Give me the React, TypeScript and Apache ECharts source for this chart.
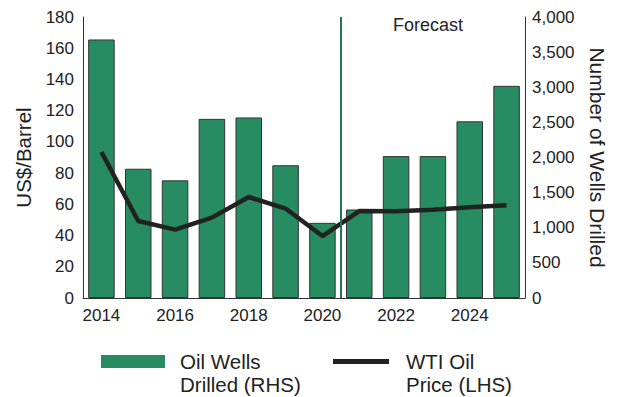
import React, { useEffect, useRef } from "react";
import * as echarts from "echarts";

const years = ["2014", "2015", "2016", "2017", "2018", "2019", "2020", "2021", "2022", "2023", "2024", "2025"];
const wellsDrilled = [3680, 1840, 1675, 2550, 2570, 1890, 1070, 1260, 2020, 2020, 2515, 3020];
const wtiPrice = [93.5, 49.3, 43.8, 51.5, 64.7, 57.3, 39.7, 55.7, 55.5, 56.6, 58.1, 59.4];
const priceAxis = { min: 0, max: 180, interval: 20 };
const wellsAxis = { min: 0, max: 4000, interval: 500 };
const forecastStartIndex = 6.5;
const wellsName = "Oil Wells\nDrilled (RHS)";
const priceName = "WTI Oil\nPrice (LHS)";

const FONT = "'Liberation Sans', Arial, Helvetica, sans-serif";
const GREEN = "#288c62";
const DARK = "#222222";

const legendFormatter = (name: string) =>
  "{sp|}\n" + name.split("\n").map((l) => "{sp|}" + l).join("\n");

export default function App() {
  const ref = useRef<HTMLDivElement>(null);

  useEffect(() => {
    if (!ref.current) return;
    const chart = echarts.init(ref.current, undefined, { renderer: "svg" });
    const legendText = (gap: number) => ({
      fontFamily: FONT,
      fontSize: 20.5,
      color: DARK,
      lineHeight: 23,
      rich: { sp: { width: gap, lineHeight: 23, fontSize: 20.5 } },
    });
    chart.setOption({
      animation: false,
      textStyle: { fontFamily: FONT },
      grid: { left: 83, right: 93, top: 17, bottom: 99, containLabel: false },
      legend: [
        {
          data: [wellsName],
          left: 101,
          top: 327,
          padding: 0,
          itemWidth: 64,
          itemHeight: 13,
          icon: "rect",
          itemStyle: { borderWidth: 0 },
          formatter: legendFormatter,
          textStyle: legendText(10),
        },
        {
          data: [priceName],
          left: 333,
          top: 327,
          padding: 0,
          itemWidth: 56,
          itemHeight: 5,
          icon: "rect",
          itemStyle: { color: DARK },
          formatter: legendFormatter,
          textStyle: legendText(12),
        },
      ],
      xAxis: [
        {
          type: "category",
          data: years,
          axisLine: { onZero: false, lineStyle: { color: "#333", width: 1 } },
          axisTick: { show: false },
          axisLabel: { interval: 1, fontSize: 17, color: DARK, margin: 9, fontFamily: FONT },
        },
        {
          type: "value",
          min: -0.5,
          max: 11.5,
          show: false,
          axisLine: { show: false, onZero: false },
        },
      ],
      yAxis: [
        {
          type: "value",
          min: priceAxis.min,
          max: priceAxis.max,
          interval: priceAxis.interval,
          name: "US$/Barrel",
          nameLocation: "middle",
          nameGap: 49,
          nameRotate: 90,
          nameTextStyle: { fontSize: 20.5, color: DARK, fontFamily: FONT },
          axisLine: { show: true, onZero: false, lineStyle: { color: "#333", width: 1 } },
          axisTick: { show: false },
          splitLine: { show: false },
          axisLabel: { fontSize: 17, color: DARK, margin: 9, fontFamily: FONT },
        },
        {
          type: "value",
          position: "right",
          min: wellsAxis.min,
          max: wellsAxis.max,
          interval: wellsAxis.interval,
          name: "Number of Wells Drilled",
          nameLocation: "middle",
          nameGap: 62,
          nameRotate: -90,
          nameTextStyle: { fontSize: 21, color: DARK, fontFamily: FONT },
          axisLine: { show: true, onZero: false, lineStyle: { color: "#333", width: 1 } },
          axisTick: { show: false },
          splitLine: { show: false },
          axisLabel: {
            fontSize: 17,
            color: DARK,
            margin: 7,
            fontFamily: FONT,
            formatter: (v: number) => v.toLocaleString("en-US"),
          },
        },
      ],
      graphic: [
        {
          type: "text",
          left: 393,
          top: 16,
          style: { text: "Forecast", fontSize: 18, fill: DARK, fontFamily: FONT },
        },
      ],
      series: [
        {
          name: wellsName,
          type: "bar",
          xAxisIndex: 0,
          yAxisIndex: 1,
          data: wellsDrilled,
          barCategoryGap: "28%",
          itemStyle: { color: GREEN, borderColor: "#333", borderWidth: 1 },
          z: 2,
        },
        {
          name: priceName,
          type: "line",
          xAxisIndex: 0,
          yAxisIndex: 0,
          data: wtiPrice,
          symbol: "none",
          lineStyle: { color: DARK, width: 4.5 },
          itemStyle: { color: DARK },
          z: 4,
        },
        {
          name: "forecast-divider",
          type: "line",
          xAxisIndex: 1,
          yAxisIndex: 0,
          data: [],
          markLine: {
            silent: true,
            symbol: "none",
            label: { show: false },
            lineStyle: { color: "#1f7a4a", width: 2, type: "solid" },
            data: [{ xAxis: forecastStartIndex }],
          },
          z: 3,
        },
      ],
    });
    return () => chart.dispose();
  }, []);

  return (
    <div
      ref={ref}
      style={{ position: "fixed", left: 0, top: 0, width: 618, height: 397, background: "#fff" }}
    />
  );
}
